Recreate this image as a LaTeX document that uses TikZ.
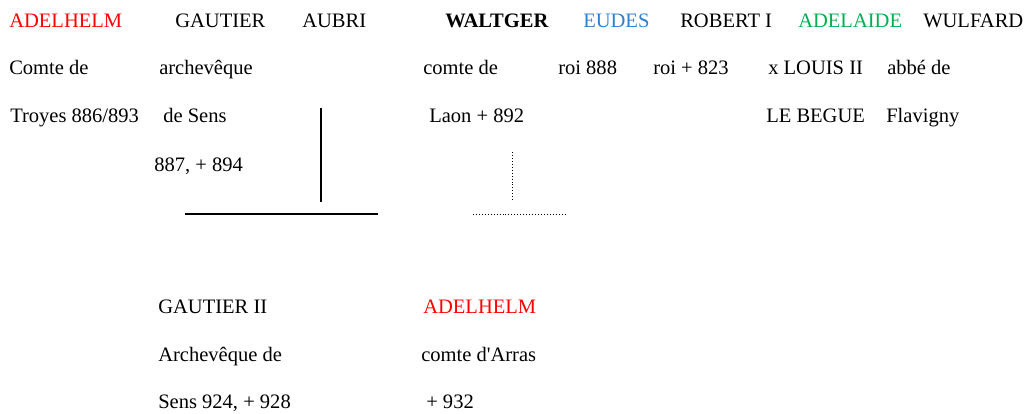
\documentclass[tikz,border=0pt]{standalone}
\usepackage{fontspec}
\setmainfont{Liberation Serif}
\usepackage{xcolor}
\definecolor{rougeA}{HTML}{FF0000}
\definecolor{bleuE}{HTML}{2E7FCF}
\definecolor{vertA}{HTML}{00B050}
\tikzset{
  txt/.style={anchor=base west, inner sep=0pt, font=\fontsize{14.6}{17}\selectfont},
  filiation/.style={line width=1.4pt},
  alliance/.style={line width=0.7pt, dash pattern=on 0.7pt off 1.4pt},
}

\begin{document}
\begin{tikzpicture}[x=0.025cm, y=-0.025cm]
      \useasboundingbox (0,0) rectangle (1026,414);
      % generation du haut
      \node[txt, rougeA] (adel) at (9, 27) {ADELHELM};
      \node[txt] (adelA) at (9, 74) {Comte de};
      \node[txt] (adelB) at (10, 122) {Troyes 886/893};
      \node[txt] (gaut) at (175, 27) {GAUTIER};
      \node[txt] (gautA) at (159, 74) {archevêque};
      \node[txt] (gautB) at (163, 122) {de Sens};
      \node[txt] (gautC) at (154, 171) {887, + 894};
      \node[txt] (aubri) at (302, 27) {AUBRI};
      \node[txt, font=\fontsize{14.6}{17}\selectfont\bfseries] (walt) at (445, 27) {WALTGER};
      \node[txt] (waltA) at (423, 74) {comte de};
      \node[txt] (waltB) at (429, 122) {Laon + 892};
      \node[txt, bleuE] (eudes) at (583, 27) {EUDES};
      \node[txt] (eudesA) at (558, 74) {roi 888};
      \node[txt] (rob) at (680, 27) {ROBERT I};
      \node[txt] (robA) at (653, 74) {roi + 823};
      \node[txt, vertA] (adla) at (798, 27) {ADELAIDE};
      \node[txt] (adlaA) at (768, 74) {x LOUIS II};
      \node[txt] (adlaB) at (766, 122) {LE BEGUE};
      \node[txt] (wulf) at (923, 27) {WULFARD};
      \node[txt] (wulfA) at (887, 74) {abbé de};
      \node[txt] (wulfB) at (886, 122) {Flavigny};
      % enfants
      \node[txt] (gaut2) at (158, 313) {GAUTIER II};
      \node[txt] (gaut2A) at (158, 361) {Archevêque de};
      \node[txt] (gaut2B) at (158, 408) {Sens 924, + 928};
      \node[txt, rougeA] (adel2) at (423, 313) {ADELHELM};
      \node[txt] (adel2A) at (421, 361) {comte d\textquotesingle Arras};
      \node[txt] (adel2B) at (426, 408) {+ 932};
      % traits
      \coordinate (p1) at (321, 108);
      \coordinate (p2) at (321, 202);
      \coordinate (h1) at (185, 214);
      \coordinate (h2) at (378, 214);
      \coordinate (q1) at (512, 152);
      \coordinate (q2) at (512, 201);
      \coordinate (k1) at (473, 214);
      \coordinate (k2) at (567, 214);
      \draw[filiation] (p1) -- (p2);
      \draw[filiation] (h1) -- (h2);
      \draw[alliance] (q1) -- (q2);
      \draw[alliance] (k1) -- (k2);
    \end{tikzpicture}
\end{document}
